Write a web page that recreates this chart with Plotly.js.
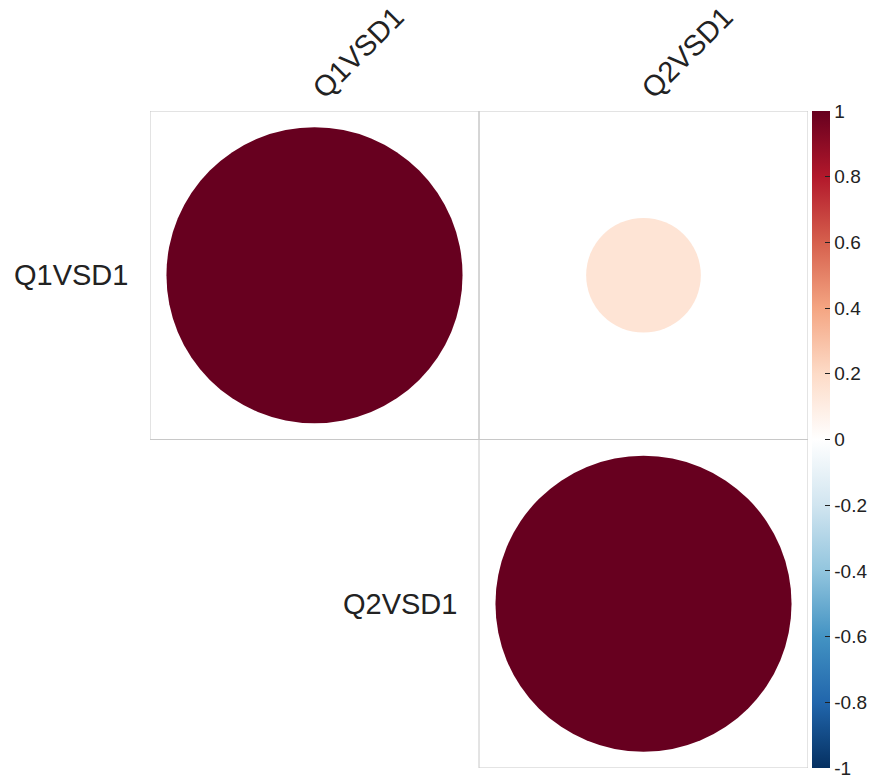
<!DOCTYPE html>
<html><head><meta charset="utf-8">
<script src="https://cdn.plot.ly/plotly-3.0.1.min.js"></script>
<style>html,body{margin:0;padding:0;background:#fff}</style>
</head><body><div id="chart" style="width:869px;height:782px"></div>
<script>
const vars = ['Q1VSD1', 'Q2VSD1'];
const row1 = [1.00, 0.15];
const row2 = [0.15, 1.00];
const corr = [row1, row2];
const colorbarTicks = [-1, -0.8, -0.6, -0.4, -0.2, 0, 0.2, 0.4, 0.6, 0.8, 1];
const colorbarLabels = ['-1', '-0.8', '-0.6', '-0.4', '-0.2', '0', '0.2', '0.4', '0.6', '0.8', '1'];

const W = 869, H = 782;
const margin = {l: 150, r: 61, t: 111, b: 14, autoexpand: false};
const n = vars.length;
const cellPx = (W - margin.l - margin.r) / n;

const xs = [], ys = [], vals = [], sizes = [], shapes = [];
for (let i = 0; i < n; i++) {
  for (let j = i; j < n; j++) {
    const v = corr[i][j];
    xs.push(j + 1); ys.push(i + 1); vals.push(v);
    sizes.push(0.9 * cellPx * Math.sqrt(Math.abs(v)));
    shapes.push({type: 'rect', xref: 'x', yref: 'y', x0: j + 0.5, x1: j + 1.5, y0: i + 0.5, y1: i + 1.5,
      line: {color: '#c8c8c8', width: 1}, fillcolor: 'rgba(0,0,0,0)', layer: 'below'});
  }
}

const rdbu = [
  [0.0, '#053061'], [0.1, '#2166AC'], [0.2, '#4393C3'], [0.3, '#92C5DE'], [0.4, '#D1E5F0'],
  [0.5, '#FFFFFF'], [0.6, '#FDDBC7'], [0.7, '#F4A582'], [0.8, '#D6604D'], [0.9, '#B2182B'], [1.0, '#67001F']
];

const trace = {
  type: 'scatter', mode: 'markers', x: xs, y: ys,
  hoverinfo: 'skip',
  marker: {
    size: sizes, sizemode: 'diameter', color: vals, cmin: -1, cmax: 1, colorscale: rdbu,
    line: {width: 0}, opacity: 1,
    colorbar: {
      x: 1.006, xanchor: 'left', xref: 'paper', xpad: 0, ypad: 0,
      y: 0, yanchor: 'bottom', len: 1, lenmode: 'fraction',
      thickness: 18, thicknessmode: 'pixels', outlinewidth: 0,
      tickvals: colorbarTicks, ticktext: colorbarLabels,
      ticks: 'inside', ticklen: 5, tickcolor: '#222', tickwidth: 1,
      tickfont: {family: 'Liberation Sans, Arial, sans-serif', size: 19, color: '#222'}
    }
  }
};

const annotations = vars.map((name, i) => ({
  xref: 'x', yref: 'y', x: i + 0.5, y: i + 1, text: name, showarrow: false,
  xanchor: 'right', yanchor: 'middle', xshift: -20,
  font: {family: 'Liberation Sans, Arial, sans-serif', size: 29, color: '#222'}
}));

const layout = {
  width: W, height: H, margin: margin,
  paper_bgcolor: '#fff', plot_bgcolor: '#fff',
  showlegend: false,
  xaxis: {range: [0.5, n + 0.5], side: 'top', tickvals: vars.map((_, i) => i + 1), ticktext: vars,
    tickangle: -45, showgrid: false, zeroline: false, showline: false, ticks: '',
    tickfont: {family: 'Liberation Sans, Arial, sans-serif', size: 29, color: '#222'}, fixedrange: true},
  yaxis: {range: [n + 0.5, 0.5], showticklabels: false, showgrid: false, zeroline: false, showline: false,
    ticks: '', fixedrange: true},
  shapes: shapes,
  annotations: annotations
};

Plotly.newPlot('chart', [trace], layout, {displayModeBar: false, staticPlot: true});
</script></body></html>
